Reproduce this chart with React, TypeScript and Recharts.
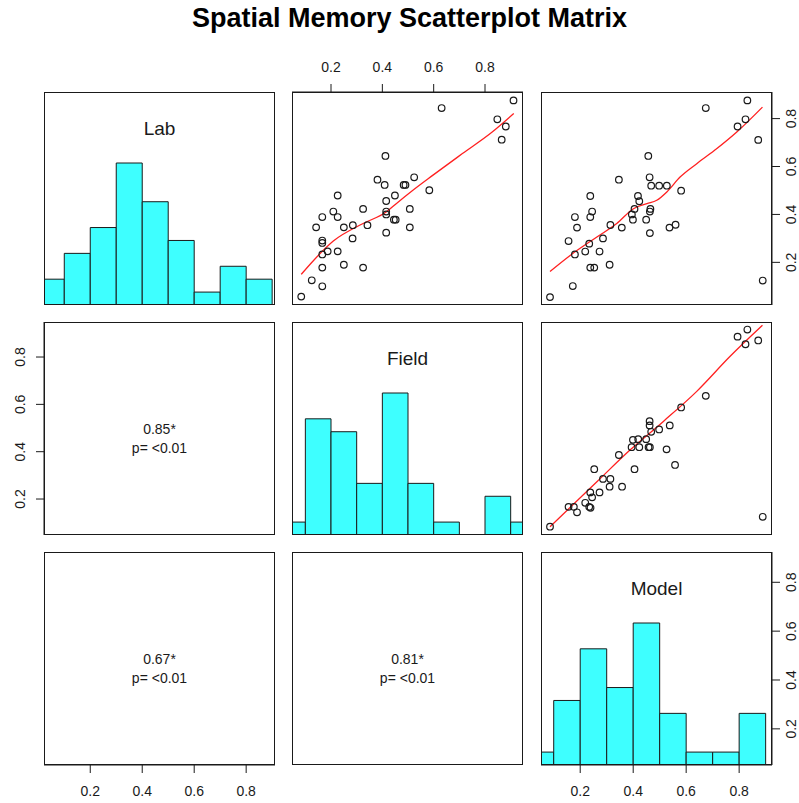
import React from "react";
import { ComposedChart, Scatter, Line, XAxis, YAxis, ReferenceArea } from "recharts";

const TITLE = "Spatial Memory Scatterplot Matrix";
const VARS = ["Lab", "Field", "Model"];
const TICKS = [0.2, 0.4, 0.6, 0.8];

// axis ranges (R pads the data range by 4%)
const LAB_DOMAIN = [0.022, 0.911];
const FIELD_DOMAIN = [0.048, 0.948];
const MODEL_DOMAIN = [0.052, 0.924];
const HIST_DOMAIN = [0, 1.5];

// histograms
const LAB_BREAKS = [0, 0.1, 0.2, 0.3, 0.4, 0.5, 0.6, 0.7, 0.8, 0.9];
const LAB_COUNTS = [2, 4, 6, 11, 8, 5, 1, 3, 2];
const FIELD_BREAKS = [0, 0.1, 0.2, 0.3, 0.4, 0.5, 0.6, 0.7, 0.8, 0.9, 1.0];
const FIELD_COUNTS = [1, 9, 8, 4, 11, 4, 1, 0, 3, 1];
const MODEL_BREAKS = [0, 0.1, 0.2, 0.3, 0.4, 0.5, 0.6, 0.7, 0.8, 0.9];
const MODEL_COUNTS = [1, 5, 9, 6, 11, 4, 1, 1, 4];

// correlations (lower panels)
const R_LAB_FIELD = "0.85*";
const R_LAB_MODEL = "0.67*";
const R_FIELD_MODEL = "0.81*";
const P_TEXT = "p= <0.01";

// scatter points [x, y]
const LAB_VS_FIELD = [
  [0.911, 0.876], [0.631, 0.844], [0.848, 0.797], [0.881, 0.767], [0.865, 0.712], [0.412, 0.644],
  [0.381, 0.545], [0.524, 0.555], [0.409, 0.523], [0.483, 0.523], [0.49, 0.523], [0.583, 0.501],
  [0.226, 0.479], [0.449, 0.479], [0.415, 0.456], [0.209, 0.412], [0.226, 0.389], [0.166, 0.389],
  [0.325, 0.423], [0.415, 0.412], [0.415, 0.4], [0.507, 0.423], [0.142, 0.346], [0.25, 0.346],
  [0.285, 0.355], [0.342, 0.355], [0.445, 0.378], [0.452, 0.378], [0.507, 0.346], [0.415, 0.324],
  [0.166, 0.291], [0.166, 0.281], [0.284, 0.3], [0.187, 0.246], [0.226, 0.246], [0.166, 0.233],
  [0.25, 0.19], [0.166, 0.178], [0.325, 0.178], [0.125, 0.125], [0.166, 0.1], [0.084, 0.057],
];
const LAB_VS_MODEL = [
  [0.831, 0.876], [0.674, 0.844], [0.824, 0.797], [0.794, 0.767], [0.872, 0.711], [0.457, 0.644],
  [0.346, 0.545], [0.462, 0.555], [0.468, 0.52], [0.498, 0.52], [0.527, 0.52], [0.581, 0.499],
  [0.238, 0.477], [0.418, 0.477], [0.423, 0.455], [0.245, 0.412], [0.238, 0.389], [0.18, 0.389],
  [0.405, 0.423], [0.465, 0.423], [0.395, 0.4], [0.463, 0.412], [0.399, 0.378], [0.449, 0.378],
  [0.188, 0.345], [0.314, 0.356], [0.357, 0.345], [0.537, 0.345], [0.56, 0.357], [0.463, 0.322],
  [0.156, 0.289], [0.234, 0.278], [0.286, 0.3], [0.18, 0.233], [0.219, 0.245], [0.273, 0.245],
  [0.311, 0.19], [0.238, 0.178], [0.253, 0.178], [0.172, 0.101], [0.889, 0.124], [0.086, 0.055],
];
const FIELD_VS_MODEL = [
  [0.831, 0.916], [0.794, 0.886], [0.824, 0.854], [0.872, 0.87], [0.674, 0.636], [0.581, 0.587],
  [0.538, 0.511], [0.462, 0.529], [0.462, 0.511], [0.498, 0.494], [0.468, 0.484], [0.399, 0.45],
  [0.419, 0.453], [0.449, 0.453], [0.394, 0.419], [0.423, 0.419], [0.458, 0.419], [0.463, 0.419],
  [0.526, 0.41], [0.346, 0.386], [0.558, 0.344], [0.405, 0.326], [0.253, 0.326], [0.286, 0.285],
  [0.314, 0.285], [0.311, 0.252], [0.358, 0.252], [0.238, 0.228], [0.273, 0.228], [0.245, 0.207],
  [0.219, 0.184], [0.156, 0.167], [0.176, 0.167], [0.234, 0.167], [0.239, 0.163], [0.188, 0.144],
  [0.086, 0.083], [0.889, 0.125],
];

// lowess smooths [x, y]
const FIT_LAB_FIELD = [
  [0.084, 0.15], [0.132, 0.208], [0.209, 0.289], [0.325, 0.362], [0.415, 0.41], [0.454, 0.445],
  [0.519, 0.501], [0.596, 0.563], [0.712, 0.654], [0.828, 0.744], [0.912, 0.821],
];
const FIT_LAB_MODEL = [
  [0.086, 0.162], [0.162, 0.229], [0.263, 0.306], [0.338, 0.362], [0.401, 0.424], [0.452, 0.445],
  [0.489, 0.459], [0.527, 0.494], [0.577, 0.556], [0.64, 0.612], [0.716, 0.675], [0.791, 0.744],
  [0.888, 0.848],
];
const FIT_FIELD_MODEL = [
  [0.086, 0.083], [0.263, 0.273], [0.389, 0.408], [0.514, 0.528], [0.64, 0.655], [0.766, 0.803],
  [0.888, 0.934],
];

const COL_X = [44, 292, 541];
const ROW_Y = [92, 322, 552];
const PW = 231;
const PH = 213;

const FONT = "'Liberation Sans', Arial, Helvetica, sans-serif";
const INK = "#1a1a1a";
const CYAN = "#3effff";
const RED = "#ff2020";

const toXY = (arr: number[][]) => arr.map(([x, y]) => ({ x, y }));

function HTick(props: any) {
  const { x, y, payload } = props;
  return (
    <text x={x} y={y} textAnchor="middle" dominantBaseline="central" fontFamily={FONT} fontSize={14} fill={INK}>
      {Number(payload.value).toFixed(1)}
    </text>
  );
}

function VTick(props: any) {
  const { x, y, payload } = props;
  return (
    <text
      x={x}
      y={y}
      transform={`rotate(-90 ${x} ${y})`}
      textAnchor="middle"
      dominantBaseline="central"
      fontFamily={FONT}
      fontSize={14}
      fill={INK}
    >
      {Number(payload.value).toFixed(1)}
    </text>
  );
}

interface PanelProps {
  row: number;
  col: number;
  xDomain: number[];
  yDomain: number[];
  hist?: boolean;
  top?: boolean;
  bottom?: boolean;
  left?: boolean;
  right?: boolean;
  children?: React.ReactNode;
}

function Panel({ row, col, xDomain, yDomain, hist, top, bottom, left, right, children }: PanelProps) {
  const lw = left ? 44 : 0;
  const rw = right ? 27 : 0;
  const th = top ? 40 : 0;
  const bh = bottom ? 39 : 0;
  const axisStyle = { stroke: INK, strokeWidth: 1 };
  return (
    <>
      <div style={{ position: "absolute", left: COL_X[col] - lw, top: ROW_Y[row] - th }}>
        <ComposedChart
          width={PW + lw + rw}
          height={PH + th + bh}
          margin={{ top: 0, right: 0, bottom: 0, left: 0 }}
          data={[{ x: xDomain[0], y: yDomain[0] }]}
        >
          <XAxis
            dataKey="x"
            type="number"
            xAxisId={0}
            domain={xDomain}
            allowDataOverflow
            ticks={TICKS}
            hide={!top && !bottom}
            orientation={top ? "top" : "bottom"}
            height={top ? th : bh}
            axisLine={axisStyle}
            tickLine={axisStyle}
            tickSize={8}
            tickMargin={top ? 17 : 18}
            tick={<HTick />}
            interval={0}
          />
          <YAxis
            dataKey="y"
            type="number"
            yAxisId={0}
            domain={yDomain}
            allowDataOverflow
            ticks={TICKS}
            hide={!left && !right}
            orientation={left ? "left" : "right"}
            width={left ? lw : rw}
            axisLine={axisStyle}
            tickLine={axisStyle}
            tickSize={8}
            tickMargin={left ? 16 : 11}
            tick={<VTick />}
            interval={0}
          />
          {hist && <YAxis yAxisId="hist" type="number" domain={HIST_DOMAIN} allowDataOverflow hide />}
          {children}
        </ComposedChart>
      </div>
      <div
        style={{
          position: "absolute",
          left: COL_X[col],
          top: ROW_Y[row],
          width: PW,
          height: PH,
          border: `1px solid ${INK}`,
          boxSizing: "border-box",
          pointerEvents: "none",
        }}
      />
    </>
  );
}

function histBars(breaks: number[], counts: number[]) {
  const max = Math.max(...counts);
  return counts.map((c, i) => (
    <ReferenceArea
      key={i}
      yAxisId="hist"
      x1={breaks[i]}
      x2={breaks[i + 1]}
      y1={0}
      y2={c / max}
      ifOverflow="hidden"
      fill={CYAN}
      fillOpacity={1}
      stroke={INK}
      strokeWidth={1}
    />
  ));
}

const ring = (p: any) => <circle cx={p.cx} cy={p.cy} r={3.3} fill="none" stroke={INK} strokeWidth={1.2} />;

function scatterSeries(points: number[][], fit: number[][]) {
  return [
    <Scatter key="pts" data={toXY(points)} dataKey="y" shape={ring} isAnimationActive={false} />,
    <Line
      key="fit"
      data={toXY(fit)}
      dataKey="y"
      type="monotone"
      stroke={RED}
      strokeWidth={1.3}
      dot={false}
      activeDot={false}
      isAnimationActive={false}
    />,
  ];
}

export default function App() {
  const pcx = (c: number) => COL_X[c] + PW / 2;
  const pcy = (r: number) => ROW_Y[r] + PH / 2;
  const corr = [
    { r: 1, c: 0, v: R_LAB_FIELD },
    { r: 2, c: 0, v: R_LAB_MODEL },
    { r: 2, c: 1, v: R_FIELD_MODEL },
  ];
  return (
    <div
      style={{
        position: "absolute",
        left: 0,
        top: 0,
        width: 799,
        height: 803,
        background: "#fff",
        overflow: "hidden",
        fontFamily: FONT,
      }}
    >
      {/* row 1 */}
      <Panel row={0} col={0} xDomain={LAB_DOMAIN} yDomain={LAB_DOMAIN} hist>
        {histBars(LAB_BREAKS, LAB_COUNTS)}
      </Panel>
      <Panel row={0} col={1} xDomain={FIELD_DOMAIN} yDomain={LAB_DOMAIN} top>
        {scatterSeries(LAB_VS_FIELD, FIT_LAB_FIELD)}
      </Panel>
      <Panel row={0} col={2} xDomain={MODEL_DOMAIN} yDomain={LAB_DOMAIN} right>
        {scatterSeries(LAB_VS_MODEL, FIT_LAB_MODEL)}
      </Panel>

      {/* row 2 */}
      <Panel row={1} col={0} xDomain={LAB_DOMAIN} yDomain={FIELD_DOMAIN} left />
      <Panel row={1} col={1} xDomain={FIELD_DOMAIN} yDomain={FIELD_DOMAIN} hist>
        {histBars(FIELD_BREAKS, FIELD_COUNTS)}
      </Panel>
      <Panel row={1} col={2} xDomain={MODEL_DOMAIN} yDomain={FIELD_DOMAIN}>
        {scatterSeries(FIELD_VS_MODEL, FIT_FIELD_MODEL)}
      </Panel>

      {/* row 3 */}
      <Panel row={2} col={0} xDomain={LAB_DOMAIN} yDomain={MODEL_DOMAIN} bottom />
      <Panel row={2} col={1} xDomain={FIELD_DOMAIN} yDomain={MODEL_DOMAIN} />
      <Panel row={2} col={2} xDomain={MODEL_DOMAIN} yDomain={MODEL_DOMAIN} hist bottom right>
        {histBars(MODEL_BREAKS, MODEL_COUNTS)}
      </Panel>

      <svg width={799} height={803} style={{ position: "absolute", left: 0, top: 0, pointerEvents: "none" }}>
        <text x={409.5} y={27} textAnchor="middle" fontFamily={FONT} fontWeight="bold" fontSize={27} fill="#000">
          {TITLE}
        </text>
        {VARS.map((v, i) => (
          <text
            key={v}
            x={pcx(i)}
            y={ROW_Y[i] + 36.3}
            textAnchor="middle"
            dominantBaseline="central"
            fontFamily={FONT}
            fontSize={19}
            fill={INK}
          >
            {v}
          </text>
        ))}
        {corr.map((k) => (
          <g key={`${k.r}-${k.c}`} fontFamily={FONT} fontSize={14} fill={INK} textAnchor="middle">
            <text x={pcx(k.c)} y={pcy(k.r) + 0.5} dominantBaseline="central">
              {k.v}
            </text>
            <text x={pcx(k.c)} y={pcy(k.r) + 19} dominantBaseline="central">
              {P_TEXT}
            </text>
          </g>
        ))}
      </svg>
    </div>
  );
}
